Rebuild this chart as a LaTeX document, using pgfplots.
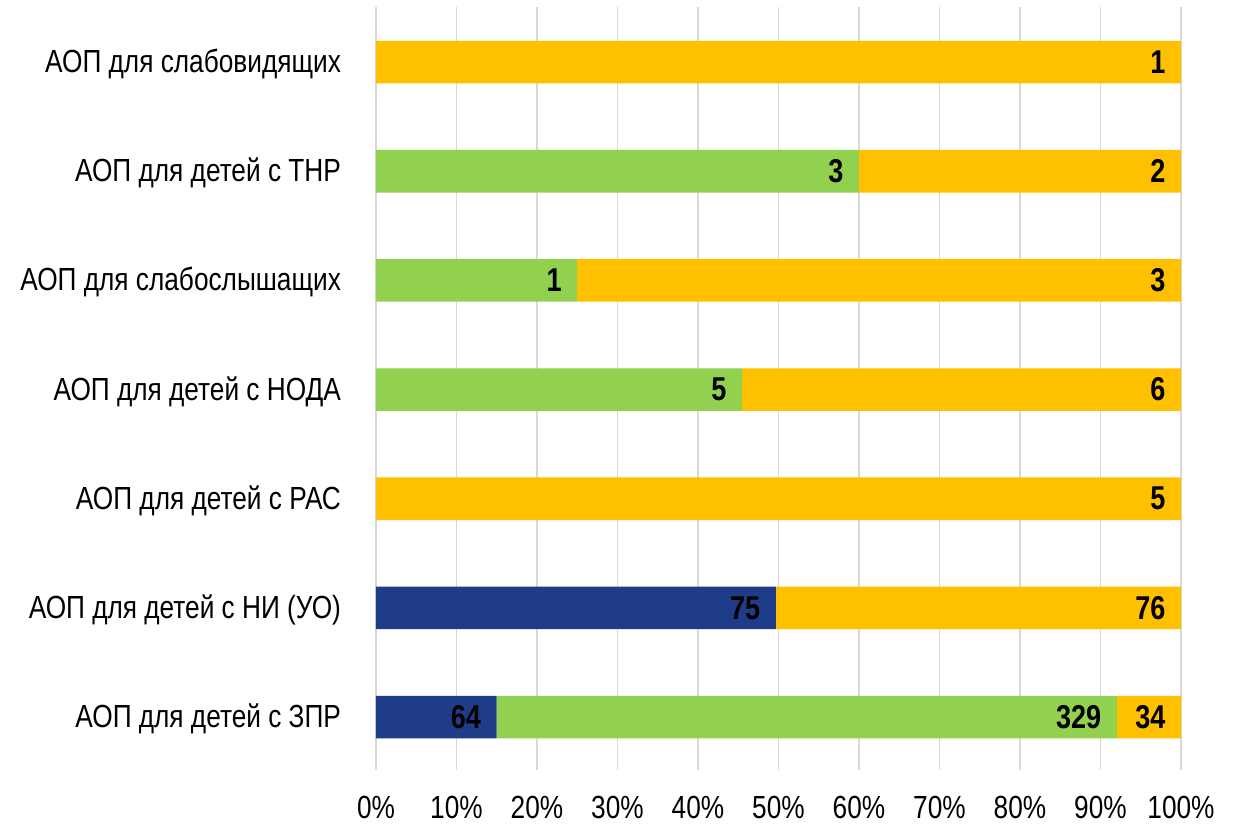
\documentclass[border=0pt]{standalone}
\usepackage{pgfplots}
\pgfplotsset{compat=1.18}
\usepackage{fontspec}
\setmainfont[FakeStretch=0.82]{Liberation Sans}
\definecolor{cblue}{RGB}{30,60,136}
\definecolor{cgreen}{RGB}{146,208,80}
\definecolor{corange}{RGB}{255,192,0}
\definecolor{cgrid}{RGB}{217,217,217}
% label #1 placed at the right end of a segment of #2 percent (axis: 4.025pt per percent)
\protected\def\lab#1#2{\makebox[\dimexpr #2pt*4025/2000-8pt\relax][r]{#1}}
\begin{document}
\begin{tikzpicture}
\useasboundingbox (-188pt,-28pt) rectangle (433.5pt,384.75pt);
\begin{axis}[
  at={(0,0)}, anchor=south west,
  scale only axis, width=402.5pt, height=381pt,
  xbar stacked, bar width=0.39,
  xmin=0, xmax=100, ymin=-0.48, ymax=6.5,
  xtick={0,10,...,100},
  xticklabel={\pgfmathprintnumber{\tick}\%},
  xticklabel style={font=\fontsize{16}{19}\selectfont, yshift=-10pt},
  /pgf/number format/assume math mode=true,
  ytick={0,...,6},
  yticklabels={АОП для детей с ЗПР, АОП для детей с НИ (УО), АОП для детей с РАС, АОП для детей с НОДА, АОП для слабослышащих, АОП для детей с ТНР, АОП для слабовидящих},
  yticklabel style={font=\fontsize{16}{19}\selectfont, xshift=-14pt, yshift=-1pt},
  major tick length=0pt,
  axis line style={draw=none},
  xmajorgrids, grid style={cgrid, line width=0.75pt},
  point meta=explicit symbolic,
  nodes near coords,
  every node near coord/.append style={anchor=west, font=\fontsize{16.5}{19}\selectfont\bfseries, text=black, inner xsep=0pt},
]
\addplot[fill=cblue, draw=none] coordinates {
 (14.988,0) [\lab{64}{14.988}] (49.669,1) [\lab{75}{49.669}] (0,2) [] (0,3) [] (0,4) [] (0,5) [] (0,6) []
};
\addplot[fill=cgreen, draw=none] coordinates {
 (77.049,0) [\lab{329}{77.049}] (0,1) [] (0,2) [] (45.455,3) [\lab{5}{45.455}] (25,4) [\lab{1}{25}] (60,5) [\lab{3}{60}] (0,6) []
};
\addplot[fill=corange, draw=none] coordinates {
 (7.963,0) [\lab{34}{7.963}] (50.331,1) [\lab{76}{50.331}] (100,2) [\lab{5}{100}] (54.545,3) [\lab{6}{54.545}] (75,4) [\lab{3}{75}] (40,5) [\lab{2}{40}] (100,6) [\lab{1}{100}]
};
\end{axis}
\end{tikzpicture}
\end{document}
